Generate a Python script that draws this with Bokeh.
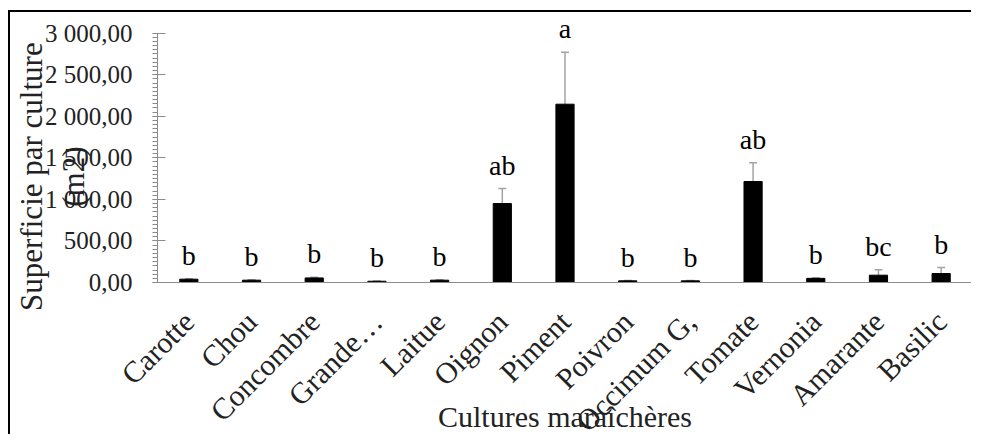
import math
from bokeh.plotting import figure
from bokeh.models import ColumnDataSource, Whisker, TeeHead, FixedTicker, LabelSet, Range1d
from bokeh.core.properties import value
from bokeh.embed import file_html
from bokeh.resources import INLINE

categories = ["Carotte", "Chou", "Concombre", "Grande…", "Laitue", "Oignon", "Piment",
              "Poivron", "Occimum G,", "Tomate", "Vernonia", "Amarante", "Basilic"]
means = [40, 28, 55, 15, 28, 950, 2145, 20, 20, 1215, 50, 88, 108]
errors = [6, 5, 8, 3, 5, 180, 625, 3, 3, 225, 8, 65, 72]
letters = ["b", "b", "b", "b", "b", "ab", "a", "b", "b", "ab", "b", "bc", "b"]
y_ticks = [0, 500, 1000, 1500, 2000, 2500, 3000]
y_tick_labels = ["0,00", "500,00", "1 000,00", "1 500,00", "2 000,00", "2 500,00", "3 000,00"]

FONT = "Liberation Serif"
AXIS_GREY = "#8c8c8c"
NB = "\u00a0" * 7

src = ColumnDataSource(dict(
    cat=categories,
    mean=means,
    upper=[m + e for m, e in zip(means, errors)],
    lower=[m - e for m, e in zip(means, errors)],
    letter=letters,
))

p = figure(x_range=categories, y_range=Range1d(0, 3200), width=963, height=424,
           output_backend="svg", toolbar_location=None,
           min_border_left=147, min_border_right=1, min_border_top=4, min_border_bottom=154)
p.styles = {"border-top": "2px solid black", "border-left": "2px solid black",
            "margin-left": "8px", "margin-top": "10px"}

p.vbar(x="cat", top="mean", width=0.29, source=src, fill_color="black", line_color="black")

err_col = "#a3a3a3"
wh = Whisker(source=src, base="cat", upper="upper", lower="lower",
             line_color=err_col, line_width=1.5,
             upper_head=TeeHead(size=8, line_color=err_col, line_width=1.5),
             lower_head=TeeHead(size=8, line_color=err_col, line_width=1.5))
p.add_layout(wh)

labels = LabelSet(x="cat", y="upper", text="letter", source=src, text_align="center",
                  text_baseline="alphabetic", y_offset=14, text_font=value(FONT),
                  text_font_size="28px", text_color="black")
p.add_layout(labels)

p.xgrid.grid_line_color = None
p.ygrid.grid_line_color = None
p.outline_line_color = None
p.background_fill_color = "white"
p.border_fill_color = "white"

# y axis
ya = p.yaxis[0]
ya.bounds = (0, 3000)
ya.ticker = FixedTicker(ticks=y_ticks, minor_ticks=list(range(0, 3001, 50)))
ya.major_label_overrides = dict(zip(y_ticks, y_tick_labels))
ya.axis_line_color = AXIS_GREY
ya.major_tick_line_color = AXIS_GREY
ya.minor_tick_line_color = AXIS_GREY
ya.major_tick_in = 8
ya.major_tick_out = 5
ya.minor_tick_in = 0
ya.minor_tick_out = 5
ya.major_label_text_font = FONT
ya.major_label_text_font_size = "25px"
ya.major_label_text_color = "#222222"
ya.major_label_standoff = 20
ya.axis_label = "Superficie par culture" + NB + "\n(m2)" + NB
ya.axis_label_text_font = FONT
ya.axis_label_text_font_size = "31px"
ya.axis_label_text_font_style = "normal"
ya.axis_label_text_color = "#222222"
ya.axis_label_standoff = -49

# x axis
xa = p.xaxis[0]
xa.axis_line_color = AXIS_GREY
xa.major_tick_line_color = None
xa.major_tick_in = 0
xa.major_tick_out = 0
xa.major_label_orientation = math.pi / 4
xa.major_label_text_font = FONT
xa.major_label_text_font_size = "30px"
xa.major_label_text_color = "#222222"
xa.major_label_standoff = 34
xa.axis_label = "Cultures maraîchères"
xa.axis_label_text_font = FONT
xa.axis_label_text_font_size = "30px"
xa.axis_label_text_font_style = "normal"
xa.axis_label_text_color = "#222222"
xa.axis_label_standoff = -52

open("out.html", "w").write(file_html(p, INLINE))
